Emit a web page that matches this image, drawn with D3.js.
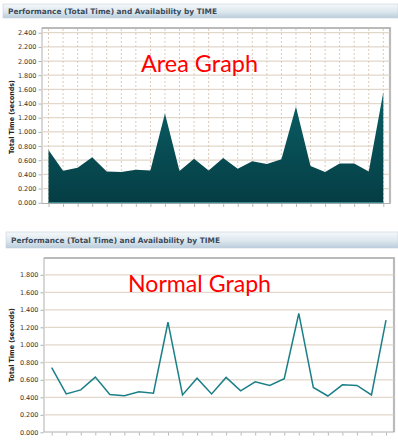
<!DOCTYPE html>
<html>
<head>
<meta charset="utf-8">
<script src="https://cdn.jsdelivr.net/npm/d3@7"></script>
<style>
  body { margin: 0; background: #fff; }
  svg { display: block; }
</style>
</head>
<body>
<svg width="398" height="441"></svg>
<script>
// values, one per time slot
const areaValues = [0.744, 0.452, 0.494, 0.640, 0.442, 0.433, 0.466, 0.456, 1.261, 0.447, 0.621, 0.456,
  0.631, 0.480, 0.584, 0.546, 0.612, 1.355, 0.518, 0.433, 0.555, 0.555, 0.442, 1.560];
const lineValues = [0.738, 0.438, 0.485, 0.631, 0.431, 0.419, 0.462, 0.446, 1.258, 0.427, 0.619, 0.438,
  0.627, 0.473, 0.577, 0.535, 0.612, 1.358, 0.512, 0.415, 0.542, 0.535, 0.427, 1.281];
const slots = d3.range(1, 25);
const areaTicks = [0, 0.2, 0.4, 0.6, 0.8, 1.0, 1.2, 1.4, 1.6, 1.8, 2.0, 2.2, 2.4];
const lineTicks = [0, 0.2, 0.4, 0.6, 0.8, 1.0, 1.2, 1.4, 1.6, 1.8];
const panelTitle = 'Performance (Total Time) and Availability by TIME';
const yTitle = 'Total Time (seconds)';

const svg = d3.select('svg');
const fmt = d3.format('.3f');

const defs = svg.append('defs');
const barGrad = defs.append('linearGradient').attr('id', 'bar').attr('x1', 0).attr('y1', 0).attr('x2', 0).attr('y2', 1);
barGrad.append('stop').attr('offset', '0%').attr('stop-color', '#f4f8fa');
barGrad.append('stop').attr('offset', '55%').attr('stop-color', '#dde7ee');
barGrad.append('stop').attr('offset', '100%').attr('stop-color', '#b9cddb');
const areaGrad = defs.append('linearGradient').attr('id', 'fill').attr('x1', 0).attr('y1', 0).attr('x2', 0).attr('y2', 1);
areaGrad.append('stop').attr('offset', '0%').attr('stop-color', '#0b5f66');
areaGrad.append('stop').attr('offset', '100%').attr('stop-color', '#053d44');

const header = (x, y, w, h) => {
  svg.append('rect').attr('x', x).attr('y', y).attr('width', w).attr('height', h)
    .attr('fill', 'url(#bar)').attr('stroke', '#c6d3dd').attr('stroke-width', 0.6);
  svg.append('text').attr('x', x + 5).attr('y', y + h / 2 + 3)
    .attr('font-family', 'DejaVu Sans').attr('font-size', 7.5).attr('font-weight', 'bold')
    .attr('fill', '#3b4a58').attr('textLength', 209).attr('lengthAdjust', 'spacingAndGlyphs')
    .text(panelTitle);
};

const panel = opts => {
  const { frame, xRange, yRange, domain, ticks, values, area, label, labelBox, yLabelY, vGrid } = opts;
  const x = d3.scalePoint().domain(slots).range(xRange);
  const y = d3.scaleLinear().domain(domain).range(yRange);
  const g = svg.append('g');

  // frame with light shadow on top/right
  g.append('path')
    .attr('d', `M${frame.x},${frame.y} H${frame.x + frame.w} V${frame.y + frame.h}`)
    .attr('fill', 'none').attr('stroke', '#c4c4c4').attr('stroke-width', 2.2);
  g.append('rect').attr('x', frame.x).attr('y', frame.y).attr('width', frame.w).attr('height', frame.h)
    .attr('fill', 'none').attr('stroke', '#b0b0b0').attr('stroke-width', 1);

  // horizontal grid
  g.selectAll('.hg').data(ticks.filter(t => t > 0)).enter().append('line')
    .attr('x1', frame.x + 0.5).attr('x2', frame.x + frame.w - 0.5)
    .attr('y1', d => y(d)).attr('y2', d => y(d))
    .attr('stroke', '#e2d7cb').attr('stroke-width', 1.2);

  if (vGrid) {
    g.selectAll('.vg').data(slots).enter().append('line')
      .attr('x1', d => x(d)).attr('x2', d => x(d))
      .attr('y1', frame.y + 1).attr('y2', frame.y + frame.h)
      .attr('stroke', '#dccbbb').attr('stroke-width', 1).attr('stroke-dasharray', '2,2');
  }

  const yAxis = d3.axisLeft(y).tickValues(ticks).tickFormat(fmt).tickSize(3).tickPadding(2);
  const ya = g.append('g').attr('transform', `translate(${frame.x - 0.5},0)`).call(yAxis);
  ya.select('.domain').remove();
  ya.selectAll('line').attr('stroke', '#b0b0b0');
  ya.selectAll('text').attr('font-family', 'DejaVu Sans').attr('font-size', 6.5).attr('fill', '#333');

  const xAxis = d3.axisBottom(x).tickSize(3).tickFormat('');
  const xa = g.append('g').attr('transform', `translate(0,${frame.y + frame.h + 0.5})`).call(xAxis);
  xa.select('.domain').remove();
  xa.selectAll('line').attr('stroke', '#b8b8b8');

  if (area) {
    g.append('path').datum(values)
      .attr('d', d3.area().x((d, i) => x(slots[i])).y0(y(0)).y1(d => y(d)))
      .attr('fill', 'url(#fill)');
    g.append('line').attr('x1', x(slots[0])).attr('x2', x(slots[slots.length - 1]))
      .attr('y1', y(0)).attr('y2', y(0)).attr('stroke', '#3d8d92').attr('stroke-width', 1);
  } else {
    g.append('path').datum(values)
      .attr('d', d3.line().x((d, i) => x(slots[i])).y(d => y(d)))
      .attr('fill', 'none').attr('stroke', '#1b7f88').attr('stroke-width', 1.5);
  }

  g.append('text').attr('transform', `translate(14,${yLabelY}) rotate(-90)`)
    .attr('text-anchor', 'middle').attr('font-family', 'DejaVu Sans').attr('font-size', 7)
    .attr('font-weight', 'bold').attr('fill', '#222')
    .attr('textLength', 74).attr('lengthAdjust', 'spacingAndGlyphs').text(yTitle);

  g.append('text').attr('x', labelBox.x).attr('y', labelBox.y)
    .attr('text-anchor', 'middle').attr('font-family', 'Lato').attr('font-size', 23)
    .attr('fill', '#ff0000').attr('textLength', labelBox.w).attr('lengthAdjust', 'spacingAndGlyphs')
    .text(label);
};

header(3, 4, 395, 14);
panel({
  frame: { x: 42, y: 28, w: 348, h: 175.5 },
  xRange: [48.5, 383.3], yRange: [202.7, 32.7], domain: [0, 2.4],
  ticks: areaTicks, values: areaValues, area: true, vGrid: true,
  label: 'Area Graph', labelBox: { x: 199.5, y: 72, w: 117 }, yLabelY: 117
});

header(6, 232, 392, 16);
panel({
  frame: { x: 44, y: 258, w: 350, h: 174 },
  xRange: [51.7, 386], yRange: [432.3, 257.3], domain: [0, 2.0],
  ticks: lineTicks, values: lineValues, area: false, vGrid: false,
  label: 'Normal Graph', labelBox: { x: 199.5, y: 292, w: 143 }, yLabelY: 345
});
</script>
</body>
</html>
